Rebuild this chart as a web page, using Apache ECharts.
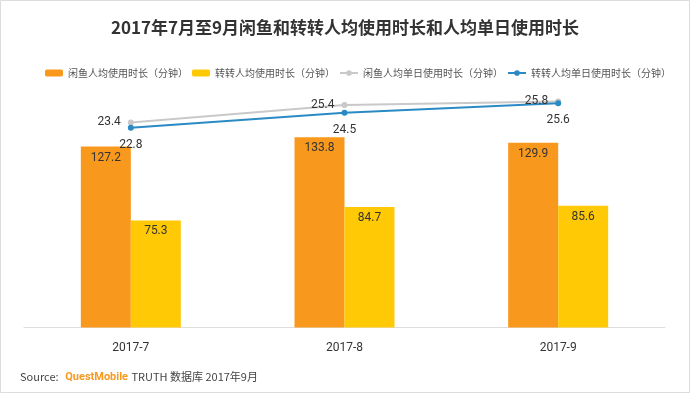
<!DOCTYPE html>
<html><head><meta charset="utf-8">
<script src="https://cdn.jsdelivr.net/npm/echarts@6/dist/echarts.min.js"></script>
<style>html,body{margin:0;padding:0;background:#fff}#c{width:690px;height:393px}</style>
</head><body><div id="c"></div>
<script>
var categories = ['2017-7', '2017-8', '2017-9'];
var xianyuTotal = [127.2, 133.8, 129.9];
var zhuanzhuanTotal = [75.3, 84.7, 85.6];
var xianyuDaily = [23.4, 25.4, 25.8];
var zhuanzhuanDaily = [22.8, 24.5, 25.6];
var seriesNames = ['闲鱼人均使用时长（分钟）', '转转人均使用时长（分钟）', '闲鱼人均单日使用时长（分钟）', '转转人均单日使用时长（分钟）'];
var titleText = '2017年7月至9月闲鱼和转转人均使用时长和人均单日使用时长';

var chart = echarts.init(document.getElementById('c'));
var labelStyle = {color: '#333', fontSize: 12, fontFamily: 'Roboto, sans-serif'};
chart.setOption({
  backgroundColor: '#fff',
  title: {
    text: titleText, left: 'center', top: 14,
    textStyle: {fontSize: 17, fontWeight: 'bold', color: '#333', fontFamily: '"Noto Sans CJK SC", sans-serif'}
  },
  legend: {
    left: 40, top: 63, itemGap: 4, itemWidth: 18, itemHeight: 7,
    textStyle: {fontSize: 10, color: '#555', fontFamily: '"Noto Sans CJK SC", sans-serif'},
    data: seriesNames
  },
  grid: {left: 24, right: 25, top: 90, bottom: 65.5, containLabel: false},
  xAxis: {
    type: 'category', data: categories,
    axisTick: {show: false},
    axisLine: {lineStyle: {color: '#ddd', width: 1}},
    axisLabel: {color: '#333', fontSize: 12, margin: 14, fontFamily: 'Roboto, sans-serif'}
  },
  yAxis: [
    {type: 'value', min: 0, max: 167, show: false, splitLine: {show: false}},
    {type: 'value', min: 0, max: 27.1, show: false, splitLine: {show: false}}
  ],
  series: [
    {name: seriesNames[0], type: 'bar', data: xianyuTotal, barWidth: 50, barGap: '0%',
     itemStyle: {color: '#F8991D'},
     label: Object.assign({show: true, position: 'insideTop', distance: 5}, labelStyle)},
    {name: seriesNames[1], type: 'bar', data: zhuanzhuanTotal, barWidth: 50,
     itemStyle: {color: '#FFC905'},
     label: Object.assign({show: true, position: 'insideTop', distance: 5}, labelStyle)},
    {name: seriesNames[2], type: 'line', yAxisIndex: 1, data: xianyuDaily,
     symbol: 'circle', symbolSize: 6,
     lineStyle: {color: '#C9C9C9', width: 2}, itemStyle: {color: '#C9C9C9'},
     label: Object.assign({show: true, position: 'left', distance: 7}, labelStyle)},
    {name: seriesNames[3], type: 'line', yAxisIndex: 1, data: zhuanzhuanDaily,
     symbol: 'circle', symbolSize: 6,
     lineStyle: {color: '#2A8AC4', width: 2}, itemStyle: {color: '#2A8AC4'},
     label: Object.assign({show: true, position: 'bottom', distance: 8}, labelStyle)}
  ],
  graphic: [
    {type: 'rect', shape: {x: 0.5, y: 0.5, width: 689, height: 392}, style: {fill: 'none', stroke: '#dcdcdc', lineWidth: 1}, silent: true},
    {type: 'text', left: 20, top: 371, style: {
      text: '{src|Source:}  {qm|QuestMobile} {src|TRUTH 数据库 2017年9月}',
      rich: {
        src: {fontSize: 11, fill: '#444', fontFamily: '"Noto Sans CJK SC", sans-serif'},
        qm: {fontSize: 11, fill: '#F8991D', fontWeight: 'bold', fontFamily: 'Roboto, sans-serif'}
      }
    }}
  ]
});
</script></body></html>
